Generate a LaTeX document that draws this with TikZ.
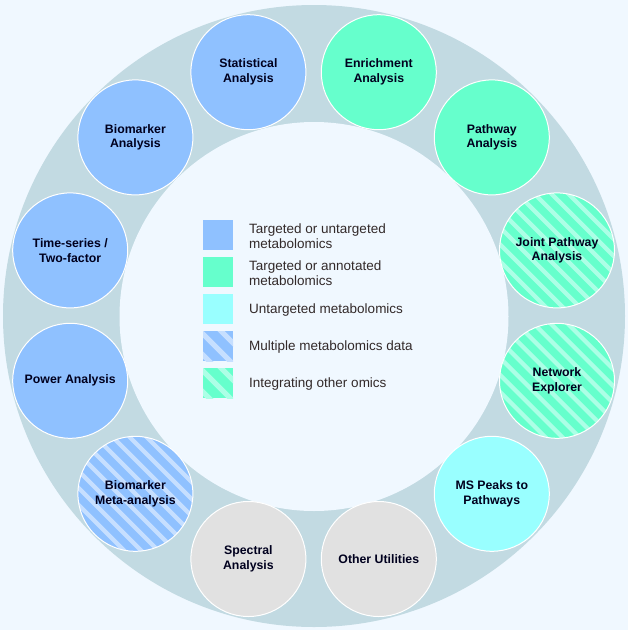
\documentclass[tikz,border=0pt]{standalone}
\usepackage{fontspec}
\setmainfont{Liberation Sans}
\definecolor{bgc}{RGB}{240,248,255}
\definecolor{ringc}{RGB}{194,218,226}
\definecolor{bluec}{RGB}{143,193,255}
\definecolor{bluelt}{RGB}{198,223,255}
\definecolor{greenc}{RGB}{102,255,204}
\definecolor{greenlt}{RGB}{172,255,230}
\definecolor{cyanc}{RGB}{153,255,255}
\definecolor{grayc}{RGB}{225,225,225}
\definecolor{txtc}{RGB}{0,0,30}
\definecolor{legc}{RGB}{51,42,42}
\begin{document}
\begin{tikzpicture}[x=1pt,y=-1pt,
  mod/.style={circle, minimum size=115pt, inner sep=0pt, draw=white, line width=1pt,
    align=center, font=\fontsize{12.3}{14.8}\selectfont\bfseries, text=txtc},
  hatchfill/.style={path picture={\foreach \t in {-170,-153,...,170}{%
      \draw[#1, line width=4.2pt] ([shift={(\t-90,-90)}]path picture bounding box.center) -- ++(180,180);}}},
  hatchsw/.style={path picture={\foreach \t in {-84,-63,...,84}{%
      \draw[#1, line width=5pt] ([shift={(\t-3-40,-40)}]path picture bounding box.center) -- ++(80,80);}}},
  swatch/.style={minimum size=30pt, inner sep=0pt, anchor=north west},
  legtext/.style={anchor=west, align=left, font=\fontsize{13.5}{15.2}\selectfont, text=legc, inner sep=0pt}]
\useasboundingbox (0,0) rectangle (628,630);
\fill[bgc] (0,0) rectangle (628,630);
\fill[ringc] (314,316) circle (311pt);
\fill[bgc] (314,316.5) circle (194.5pt);
% modules
\node[mod, fill=bluec] (stat) at (248.4,72.2) {Statistical\\Analysis};
\node[mod, fill=greenc] (enrich) at (378.8,72.2) {Enrichment\\Analysis};
\node[mod, fill=greenc] (pathway) at (491.8,137.4) {Pathway\\Analysis};
\node[mod, fill=greenc, hatchfill=greenlt] (joint) at (557.0,250.4) {Joint Pathway\\Analysis};
\node[mod, fill=greenc, hatchfill=greenlt] (network) at (557.0,380.8) {Network\\Explorer};
\node[mod, fill=cyanc] (mspeaks) at (491.8,493.8) {MS Peaks to\\Pathways};
\node[mod, fill=grayc] (other) at (378.8,559.0) {Other Utilities};
\node[mod, fill=grayc] (spectral) at (248.4,559.0) {Spectral\\Analysis};
\node[mod, fill=bluec, hatchfill=bluelt] (meta) at (135.4,493.8) {Biomarker\\Meta-analysis};
\node[mod, fill=bluec] (power) at (70.2,380.8) {Power Analysis};
\node[mod, fill=bluec] (time) at (70.2,250.4) {Time-series /\\Two-factor};
\node[mod, fill=bluec] (biomarker) at (135.4,137.4) {Biomarker\\Analysis};
% legend
\node[swatch, fill=bluec] (l1) at (203,220) {};
\node[swatch, fill=greenc] (l2) at (203,257) {};
\node[swatch, fill=cyanc] (l3) at (203,294) {};
\node[swatch, fill=bluec, hatchsw=bluelt] (l4) at (203,331) {};
\node[swatch, fill=greenc, hatchsw=greenlt] (l5) at (203,368) {};
\node[legtext] (t1) at (249,236) {Targeted or untargeted\\metabolomics};
\node[legtext] (t2) at (249,273) {Targeted or annotated\\metabolomics};
\node[legtext] (t3) at (249,310) {Untargeted metabolomics};
\node[legtext] (t4) at (249,347) {Multiple metabolomics data};
\node[legtext] (t5) at (249,384) {Integrating other omics};
\end{tikzpicture}
\end{document}
